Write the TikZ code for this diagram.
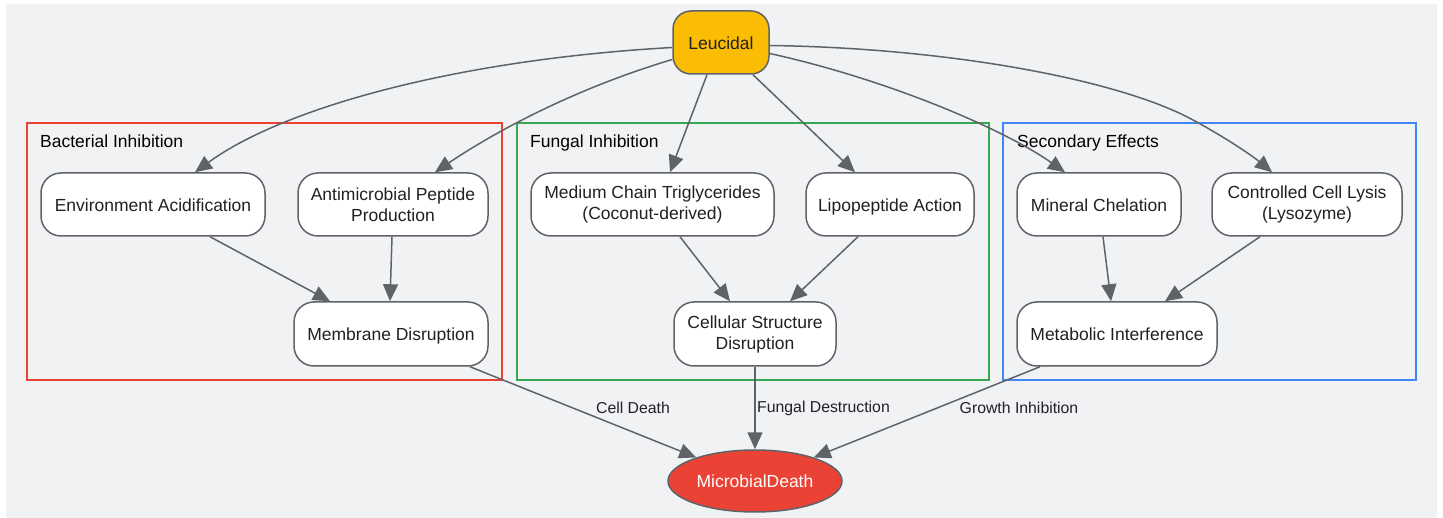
\documentclass[tikz,border=0pt]{standalone}
\usepackage{fontspec}
\setmainfont{Liberation Sans}
\usetikzlibrary{arrows.meta,shapes.geometric,calc}
\definecolor{bg}{HTML}{F1F2F4}
\definecolor{edge}{HTML}{5F6368}
\definecolor{txt}{HTML}{202124}
\definecolor{ylw}{HTML}{FBBC04}
\definecolor{rd}{HTML}{EA4335}
\definecolor{gn}{HTML}{34A853}
\definecolor{bl}{HTML}{4285F4}
\begin{document}
\begin{tikzpicture}[x=1pt,y=-1pt,
  box/.style={draw=edge, line width=1.5pt, fill=white, rounded corners=20pt,
    minimum height=63pt, inner sep=0pt, align=center,
    font=\fontsize{17.5}{21}\selectfont, text=txt},
  oneline/.style={box, text height=15.5pt, text depth=1.5pt},
  twoline/.style={box, execute at begin node={\rule{0pt}{18.6pt}}},
  conn/.style={draw=edge, line width=1.5pt, -{Triangle[length=17pt,width=15pt]}},
  lbl/.style={font=\fontsize{15.8}{19}\selectfont, text=txt, inner sep=0pt},
  clus/.style={line width=1.5pt},
  ctitle/.style={anchor=west, font=\fontsize{17.5}{21}\selectfont, inner sep=0pt,
    text height=13pt, text depth=4pt, text=black}]
\useasboundingbox (0,0) rectangle (1443,518);
\fill[bg] (6,4) rectangle (1437,518);
% clusters
\draw[rd,clus] (27,123) rectangle (502,380);
\node[ctitle] (tb) at (40,143) {Bacterial Inhibition};
\draw[gn,clus] (517,123) rectangle (989,380);
\node[ctitle] (tf) at (530,143) {Fungal Inhibition};
\draw[bl,clus] (1003,123) rectangle (1416,380);
\node[ctitle] (ts) at (1017,143) {Secondary Effects};
% nodes
\node[oneline, fill=ylw, minimum width=96pt, rounded corners=18pt] (L) at (721,42.5) {Leucidal};
\node[oneline, minimum width=224pt] (env) at (153,204.5) {Environment Acidification};
\node[twoline, minimum width=190pt] (amp) at (393,204.5) {Antimicrobial Peptide\\Production};
\node[oneline, minimum width=194pt, minimum height=64pt] (mem) at (391,334) {Membrane Disruption};
\node[twoline, minimum width=243pt] (mct) at (652.5,204.5) {Medium Chain Triglycerides\\(Coconut-derived)};
\node[oneline, minimum width=168pt] (lip) at (890,204.5) {Lipopeptide Action};
\node[twoline, minimum width=162pt, minimum height=64pt] (cel) at (755,334) {Cellular Structure\\Disruption};
\node[oneline, minimum width=164pt] (min) at (1099,204.5) {Mineral Chelation};
\node[twoline, minimum width=190pt] (lys) at (1307,204.5) {Controlled Cell Lysis\\(Lysozyme)};
\node[oneline, minimum width=200pt, minimum height=64pt] (met) at (1117,334) {Metabolic Interference};
\node[ellipse, draw=edge, line width=1.5pt, fill=rd, minimum width=174pt, minimum height=62pt,
  inner sep=0pt, text=white, font=\fontsize{17.5}{21}\selectfont] (md) at (755,481) {MicrobialDeath};
% edges from Leucidal
\draw[conn] ($(L.west)+(0,5)$) .. controls (450,60) and (280,110) .. ($(env.north)+(42,0)$);
\draw[conn] ($(L.west)+(0,17)$) .. controls (570,90) and (490,135) .. ($(amp.north)+(42,0)$);
\draw[conn] ($(L.south)+(-14,0)$) -- ($(mct.north)+(17.5,0)$);
\draw[conn] ($(L.south)+(32,0)$) -- ($(lip.north)+(-35,0)$);
\draw[conn] ($(L.east)+(0,11)$) .. controls (890,80) and (1005,130) .. ($(min.north)+(-34,0)$);
\draw[conn] ($(L.east)+(0,3)$) .. controls (950,48) and (1120,80) .. (1193,120)
  .. controls (1230,140) and (1255,158) .. ($(lys.north)+(-35,0)$);
% inner edges
\draw[conn] ($(env.south)+(57,0)$) -- ($(mem.north)+(-61,0)$);
\draw[conn] ($(amp.south)+(-1,0)$) -- ($(mem.north)+(-1,0)$);
\draw[conn] ($(mct.south)+(27.5,0)$) -- ($(cel.north)+(-25,0)$);
\draw[conn] ($(lip.south)+(-32,0)$) -- ($(cel.north)+(35,0)$);
\draw[conn] ($(min.south)+(4,0)$) -- ($(met.north)+(-6,0)$);
\draw[conn] ($(lys.south)+(-47,0)$) -- ($(met.north)+(48,0)$);
% to MicrobialDeath
\draw[conn] ($(mem.south)+(79,0)$) -- (md);
\draw[conn] (cel.south) -- (md.north);
\draw[conn] ($(met.south)+(-77,0)$) -- (md);
\node[lbl] (l1) at (633,408) {Cell Death};
\node[lbl, anchor=west] (l2) at (757,408) {Fungal Destruction};
\node[lbl] (l3) at (1019,408) {Growth Inhibition};
\end{tikzpicture}
\end{document}
